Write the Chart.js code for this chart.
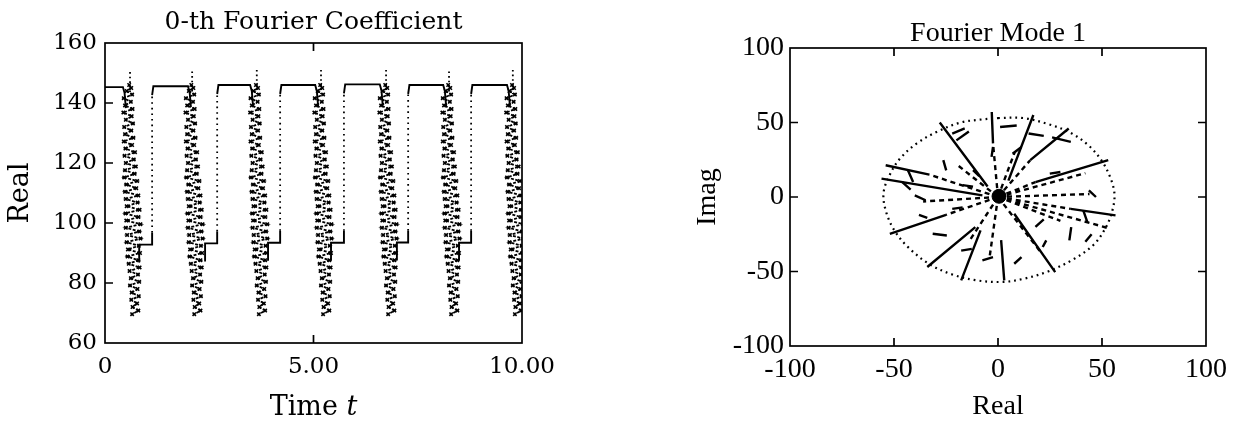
<!DOCTYPE html>
<html>
<head>
<meta charset="utf-8">
<script src="https://cdn.jsdelivr.net/npm/chart.js@4.4.0/dist/chart.umd.min.js"></script>
<style>
  body { margin: 0; background: #fff; width: 1238px; height: 423px; position: relative; overflow: hidden; }
  #coefChart { position: absolute; left: 0; top: 0; }
  #modeChart { position: absolute; left: 680px; top: 0; }
</style>
</head>
<body>
<canvas id="coefChart" width="560" height="423"></canvas>
<canvas id="modeChart" width="558" height="423"></canvas>
<script>
// ---- 0-th Fourier coefficient, one entry per cycle ----
const dropTimes = [0.43, 1.99, 3.48, 5.04, 6.59, 8.11, 9.64];
const riseTimes = [1.13, 2.69, 4.20, 5.73, 7.27, 8.78];
const lowStart = [0.82, 2.40, 3.91, 5.42, 7.00, 8.49];
const highLevel = [145.3, 145.6, 146.0, 146.0, 146.2, 146.0, 146.0];
const lowLevel = [92.8, 93.2, 93.4, 93.4, 93.5, 93.4];
const spikeTimes = [0.60, 2.09, 3.64, 5.18, 6.74, 8.25, 9.78];
const spikeTop = [150.3, 150.5, 151.0, 151.0, 151.0, 150.5, 151.0];

// oscillating burst after each spike (time offset from the spike, value)
const burstDt = [
  -0.02, 0.03, -0.08, 0.05, -0.15, 0.02, -0.12, 0.06, -0.16, 0.04,
  -0.10, 0.07, -0.14, 0.03, -0.12, 0.08, -0.15, 0.05, -0.11, 0.12,
  -0.13, 0.09, -0.10, 0.14, -0.12, 0.11, -0.14, 0.17, -0.09, 0.15,
  -0.12, 0.20, -0.10, 0.18, -0.08, 0.23, -0.11, 0.20, -0.09, 0.25,
  -0.10, 0.22, -0.07, 0.25, -0.08, 0.21, -0.05, 0.24, -0.06, 0.20,
  -0.03, 0.23, -0.01, 0.19, 0.02, 0.22, 0.00, 0.18, 0.04, 0.21,
  0.03, 0.17, 0.06, 0.20, 0.05
];
const burstVal = [
  146, 145, 144, 142.8, 141.6, 140.4, 139.2, 138, 136.8, 135.6,
  134.4, 133.2, 132, 130.8, 129.6, 128.4, 127.2, 126, 124.8, 123.6,
  122.4, 121.2, 120, 118.8, 117.6, 116.4, 115.2, 114, 112.8, 111.6,
  110.4, 109.2, 108, 106.8, 105.6, 104.4, 103.2, 102, 100.8, 99.6,
  98.4, 97.2, 96, 94.8, 93.6, 92.4, 91.2, 90, 88.8, 87.6,
  86.4, 85.2, 84, 82.8, 81.6, 80.4, 79.2, 78, 76.8, 75.6,
  74.4, 73.2, 72, 70.8, 69.6
];

const coefXTicks = [0, 5, 10];
const coefXLabels = ['0', '5.00', '10.00'];
const coefYTicks = [60, 80, 100, 120, 140, 160];

// ---- Fourier mode 1 (real, imag) ----
const ellipseX = [0, 12, 24, 35, 44, 50, 54, 56, 55, 52, 46, 36, 24, 12, 2, -10, -22, -33, -43, -50, -54, -55, -52, -47, -39, -29, -18, -8, 0];
const ellipseY = [53, 53, 49, 43, 34, 24, 13, 2, -9, -20, -32, -42, -50, -55, -57, -56, -52, -45, -34, -22, -9, 3, 15, 26, 36, 44, 50, 52, 53];

const spokes = [
  [[-28, 50], [-5, 7]],
  [[-3, 57], [-2.4, 36]],
  [[17, 55], [5, 11]],
  [[34, 46], [15.5, 24.7]],
  [[53, 24.7], [18, 10]],
  [[56.5, -12.3], [35, -8]],
  [[27.5, -50.4], [7.8, -11.2]],
  [[3, -56], [1.5, -29]],
  [[-17.7, -56], [-8.4, -22.4]],
  [[-34, -47], [-10.9, -20.2]],
  [[-52, -24.7], [-25, -12]],
  [[-56, 12.3], [-7.5, 1.1]],
  [[-54, 21.3], [-33, 15]]
];
const rays = [
  [-2.4, 36], [15.5, 24.7], [18, 10], [42, 16], [35, -8], [54, -21.3],
  [30, -16], [20, -36], [-4, -40], [-25, -12], [-33, 15], [-36, -3],
  [-20, 22], [8, 30], [44, 2], [-14, -30]
];
const strokes = [
  [[-26.3, 24.7], [-24.9, 17.9]],
  [[-2.4, 33.6], [-3.1, 26.9]],
  [[7, 29], [11.3, 33.6]],
  [[-22, 42.6], [-16, 46]],
  [[-40, 1.1], [-34.8, -2.2]],
  [[-31.4, -24.7], [-24.6, -25.8]],
  [[-17.7, -36], [-12.6, -34.8]],
  [[-7.5, -42.6], [-2.4, -40.4]],
  [[7.8, -44.8], [11.3, -40.4]],
  [[21.5, -33.6], [23.2, -29.1]],
  [[35.2, -20.2], [34.3, -29.1]],
  [[43.7, 4.5], [47.1, 0]],
  [[24.9, 15.7], [30, 16.8]],
  [[-43.3, 17.9], [-40.8, 10]],
  [[41, -9], [43, -17]],
  [[26, 40], [35, 37]],
  [[14.7, 42.6], [22, 41]],
  [[1, 47], [9, 48]],
  [[-20, 38], [-14, 44]],
  [[-46, 10], [-42, 5]],
  [[-38, -12], [-34, -14]],
  [[-17, 8], [-12, 7]],
  [[-22, -8], [-17, -7]],
  [[18, -20], [22, -15]],
  [[42, -30], [45, -25]],
  [[-12, 18], [-9, 14]]
];
const modeTicks = [-100, -50, 0, 50, 100];

// segments -> one scatter series broken by gaps
function segmentData(segs) {
  const out = [];
  segs.forEach(s => {
    s.forEach(p => out.push({ x: p[0], y: p[1] }));
    out.push({ x: NaN, y: null });
  });
  return out;
}

// plateau path, the dotted rises and spikes, and the bursts
const plateauPts = [];
const risePts = [];
const spikePts = [];
const burstPts = [];
dropTimes.forEach((td, k) => {
  const h = highLevel[k];
  if (k === 0) {
    plateauPts.push({ x: 0, y: h });
  } else {
    const tr = riseTimes[k - 1];
    plateauPts.push({ x: tr, y: h - 3 }, { x: tr + 0.03, y: h });
  }
  plateauPts.push({ x: td, y: h }, { x: td + 0.04, y: h - 2 }, { x: td + 0.07, y: h - 7 }, { x: NaN, y: null });
  if (k < lowStart.length) {
    const l = lowLevel[k];
    const tr = riseTimes[k];
    plateauPts.push({ x: lowStart[k], y: l - 6 }, { x: lowStart[k], y: l }, { x: tr, y: l }, { x: tr, y: l + 4 }, { x: NaN, y: null });
    risePts.push({ x: tr, y: l + 4 }, { x: tr, y: highLevel[k + 1] - 3 }, { x: NaN, y: null });
  }
  const ts = spikeTimes[k];
  spikePts.push({ x: ts, y: spikeTop[k] }, { x: ts, y: 143 }, { x: NaN, y: null });
  burstDt.forEach((dt, i) => burstPts.push({ x: ts + dt, y: burstVal[i] }));
  burstPts.push({ x: NaN, y: null });
});

// box, inward tick marks and a title centred over the plot area
const framePlugin = {
  id: 'frame',
  afterDatasetsDraw(chart, args, opts) {
    const { ctx, chartArea: a, scales } = chart;
    const len = 8;
    ctx.save();
    ctx.strokeStyle = '#000';
    ctx.lineWidth = 1.7;
    ctx.strokeRect(a.left, a.top, a.right - a.left, a.bottom - a.top);
    ctx.beginPath();
    (opts.xTicks || []).forEach(v => {
      const px = scales.x.getPixelForValue(v);
      ctx.moveTo(px, a.bottom); ctx.lineTo(px, a.bottom - len);
      ctx.moveTo(px, a.top); ctx.lineTo(px, a.top + len);
    });
    (opts.yTicksLeft || []).forEach(v => {
      const py = scales.y.getPixelForValue(v);
      ctx.moveTo(a.left, py); ctx.lineTo(a.left + len, py);
    });
    (opts.yTicksRight || []).forEach(v => {
      const py = scales.y.getPixelForValue(v);
      ctx.moveTo(a.right, py); ctx.lineTo(a.right - len, py);
    });
    ctx.stroke();
    if (opts.title) {
      ctx.fillStyle = '#000';
      ctx.font = opts.titleFont;
      ctx.textAlign = 'center';
      ctx.textBaseline = 'alphabetic';
      ctx.fillText(opts.title, (a.left + a.right) / 2, opts.titleBaseline);
    }
    ctx.restore();
  }
};

// "Time t" with an italic t
const timeLabelPlugin = {
  id: 'timeLabel',
  afterDraw(chart) {
    const { ctx, chartArea: a } = chart;
    const word = 'Time ';
    ctx.save();
    ctx.fillStyle = '#000';
    ctx.textBaseline = 'alphabetic';
    ctx.font = '27px "DejaVu Serif"';
    const w1 = ctx.measureText(word).width;
    ctx.font = 'italic 27px "DejaVu Serif"';
    const w2 = ctx.measureText('t').width;
    const x0 = (a.left + a.right) / 2 - (w1 + w2) / 2;
    ctx.font = '27px "DejaVu Serif"';
    ctx.fillText(word, x0, 415);
    ctx.font = 'italic 27px "DejaVu Serif"';
    ctx.fillText('t', x0 + w1, 415);
    ctx.restore();
  }
};

// keep the plot box fixed: no extra room for end labels
function fixX(h) {
  return s => { s.height = h; s.paddingLeft = 0; s.paddingRight = 0; };
}

const coefFont = 'DejaVu Serif';
new Chart(document.getElementById('coefChart'), {
  type: 'scatter',
  data: {
    datasets: [
      { data: plateauPts, showLine: true, borderColor: '#000', borderWidth: 1.9, pointRadius: 0, spanGaps: false },
      { data: risePts, showLine: true, borderColor: '#000', borderWidth: 1.8, borderDash: [1.6, 4], pointRadius: 0, spanGaps: false },
      { data: spikePts, showLine: true, borderColor: '#000', borderWidth: 1.8, borderDash: [1.6, 3], pointRadius: 0, spanGaps: false },
      { data: burstPts, showLine: true, borderColor: '#000', borderWidth: 1.8, borderDash: [3, 1.5],
        pointRadius: 2.4, pointStyle: 'crossRot', pointBorderColor: '#000', pointBorderWidth: 1.6, spanGaps: false }
    ]
  },
  options: {
    responsive: false,
    animation: false,
    layout: { padding: { top: 43, right: 38, bottom: 0, left: 0 } },
    plugins: {
      legend: { display: false },
      tooltip: { enabled: false },
      title: { display: false },
      frame: {
        xTicks: [5], yTicksLeft: [80, 100, 120, 140],
        title: '0-th Fourier Coefficient', titleFont: '25px "DejaVu Serif"', titleBaseline: 29
      }
    },
    scales: {
      x: {
        type: 'linear', min: 0, max: 10,
        afterFit: fixX(80),
        afterBuildTicks: s => { s.ticks = coefXTicks.map(v => ({ value: v })); },
        ticks: {
          color: '#000', padding: 10, maxRotation: 0,
          font: { family: coefFont, size: 23 },
          callback: v => coefXLabels[coefXTicks.indexOf(v)]
        },
        grid: { display: false, drawTicks: false },
        border: { display: false },
        title: { display: false }
      },
      y: {
        type: 'linear', min: 60, max: 160,
        afterFit: s => { s.width = 105; },
        afterBuildTicks: s => { s.ticks = coefYTicks.map(v => ({ value: v })); },
        ticks: { color: '#000', padding: 8, font: { family: coefFont, size: 23 } },
        grid: { display: false, drawTicks: false },
        border: { display: false },
        title: {
          display: true, text: 'Real', color: '#000',
          font: { family: coefFont, size: 27 },
          padding: { top: 5, bottom: 0 }
        }
      }
    }
  },
  plugins: [framePlugin, timeLabelPlugin]
});

const modeFont = 'Liberation Serif';
const ellipsePts = ellipseX.map((x, i) => ({ x: x, y: ellipseY[i] }));
const rayPts = segmentData(rays.map(r => [[0, 0], r]));

new Chart(document.getElementById('modeChart'), {
  type: 'scatter',
  data: {
    datasets: [
      { data: ellipsePts, showLine: true, tension: 0.35, borderColor: '#000', borderWidth: 2.2, borderDash: [1.8, 4], pointRadius: 0 },
      { data: segmentData(spokes), showLine: true, borderColor: '#000', borderWidth: 2.4, pointRadius: 0, spanGaps: false },
      { data: rayPts, showLine: true, borderColor: '#000', borderWidth: 2.4, borderDash: [5, 4], pointRadius: 0, spanGaps: false },
      { data: segmentData(strokes), showLine: true, borderColor: '#000', borderWidth: 2.4, pointRadius: 0, spanGaps: false },
      { data: [{ x: 0.5, y: 0.5 }], pointRadius: 7, pointBackgroundColor: '#000', pointBorderColor: '#000' }
    ]
  },
  options: {
    responsive: false,
    animation: false,
    layout: { padding: { top: 48, right: 32, bottom: 0, left: 0 } },
    plugins: {
      legend: { display: false },
      tooltip: { enabled: false },
      title: { display: false },
      frame: {
        xTicks: [-50, 0, 50], yTicksLeft: [-50, 0, 50], yTicksRight: [-50, 0, 50],
        title: 'Fourier Mode 1', titleFont: '28px "Liberation Serif"', titleBaseline: 41
      }
    },
    scales: {
      x: {
        type: 'linear', min: -100, max: 100,
        afterFit: fixX(77),
        afterBuildTicks: s => { s.ticks = modeTicks.map(v => ({ value: v })); },
        ticks: { color: '#000', padding: 7, maxRotation: 0, font: { family: modeFont, size: 28 }, callback: v => String(v) },
        grid: { display: false, drawTicks: false },
        border: { display: false },
        title: {
          display: true, text: 'Real', color: '#000',
          font: { family: modeFont, size: 28 },
          padding: { top: 0, bottom: 0 }
        }
      },
      y: {
        type: 'linear', min: -100, max: 100,
        afterFit: s => { s.width = 110; },
        afterBuildTicks: s => { s.ticks = modeTicks.map(v => ({ value: v })); },
        ticks: { color: '#000', padding: 6, font: { family: modeFont, size: 28 }, callback: v => String(v) },
        grid: { display: false, drawTicks: false },
        border: { display: false },
        title: {
          display: true, text: 'Imag', color: '#000',
          font: { family: modeFont, size: 28 },
          padding: { top: 11, bottom: 0 }
        }
      }
    }
  },
  plugins: [framePlugin]
});
</script>
</body>
</html>
